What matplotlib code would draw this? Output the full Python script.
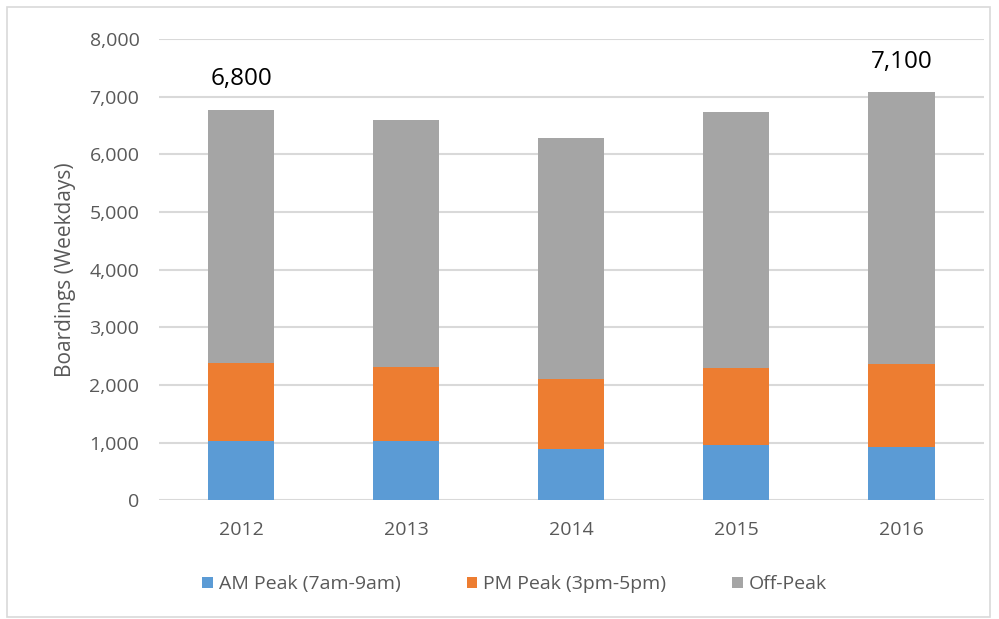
import matplotlib.pyplot as plt
from matplotlib.patches import Rectangle
from matplotlib.ticker import FuncFormatter

years = ['2012', '2013', '2014', '2015', '2016']
am_peak = [1020, 1020, 890, 950, 930]
pm_peak = [1360, 1290, 1220, 1340, 1430]
off_peak = [4390, 4290, 4175, 4440, 4720]
total_labels = {0: '6,800', 4: '7,100'}

plt.rcParams['font.family'] = ['Open Sans', 'DejaVu Sans']

fig = plt.figure(figsize=(9.99, 6.19), dpi=100)
ax = fig.add_axes([0.159, 0.192, 0.826, 0.745])

# light border round the whole chart
fig.patches.append(Rectangle((0.007, 0.003), 0.984, 0.986, transform=fig.transFigure,
                             fill=False, edgecolor='#d9d9d9', linewidth=1.2))

x = range(len(years))
width = 0.4
bottom2 = [a + p for a, p in zip(am_peak, pm_peak)]
ax.bar(x, am_peak, width, color='#5b9bd5', label='AM Peak (7am-9am)', zorder=3)
ax.bar(x, pm_peak, width, bottom=am_peak, color='#ed7d31', label='PM Peak (3pm-5pm)', zorder=3)
ax.bar(x, off_peak, width, bottom=bottom2, color='#a5a5a5', label='Off-Peak', zorder=3)

# total labels above first and last bars
for i, txt in total_labels.items():
    top = bottom2[i] + off_peak[i]
    ax.text(i, top + 320, txt, ha='center', va='bottom', fontsize=17.5, color='black')

ax.set_xlim(-0.5, len(years) - 0.5)
ax.set_ylim(0, 8000)
ax.set_yticks(range(0, 8001, 1000))
ax.yaxis.set_major_formatter(FuncFormatter(lambda v, p: f'{int(v):,}'))
ax.set_xticks(list(x))
ax.set_xticklabels(years)
ax.tick_params(axis='both', length=0, labelsize=14, colors='#595959')
ax.tick_params(axis='x', pad=15)
ax.tick_params(axis='y', pad=14)
ax.grid(axis='y', color='#d9d9d9', linewidth=1.5, zorder=0)
for s in ax.spines.values():
    s.set_visible(False)
ax.set_ylabel('Boardings (Weekdays)', fontsize=15, color='#595959', labelpad=10)

leg = ax.legend(loc='upper center', bbox_to_anchor=(0.431, -0.125), ncol=3, frameon=False,
                fontsize=14, handlelength=0.55, handleheight=0.55, handletextpad=0.3,
                columnspacing=3.4)
for t in leg.get_texts():
    t.set_color('#595959')

fig.savefig('out.png', dpi=100)
